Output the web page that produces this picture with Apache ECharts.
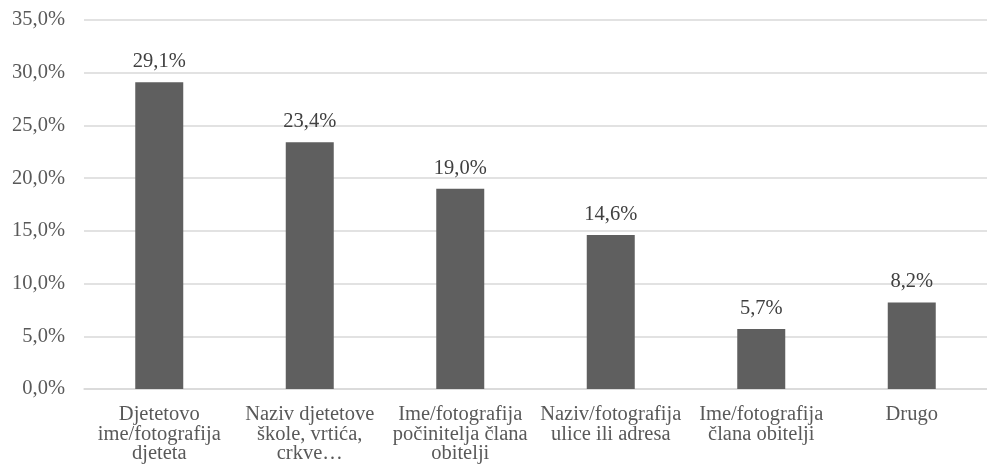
<!DOCTYPE html>
<html><head><meta charset="utf-8">
<script src="https://cdn.jsdelivr.net/npm/echarts@6/dist/echarts.min.js"></script>
<style>html,body{margin:0;padding:0;background:#fff}#c{width:987px;height:469px}</style>
</head><body><div id="c"></div>
<script>
const categories = [
  "Djetetovo\nime/fotografija\ndjeteta",
  "Naziv djetetove\nškole, vrtića,\ncrkve…",
  "Ime/fotografija\npočinitelja člana\nobitelji",
  "Naziv/fotografija\nulice ili adresa",
  "Ime/fotografija\nčlana obitelji",
  "Drugo"
];
const values = [29.1, 23.4, 19.0, 14.6, 5.7, 8.2];
const yTicks = { min: 0, max: 35, interval: 5 };

const fmt = v => v.toFixed(1).replace('.', ',') + '%';
const font = 'Liberation Serif';
const chart = echarts.init(document.getElementById('c'));
chart.setOption({
  animation: false,
  grid: { left: 84, right: -8, top: 20, bottom: 80 },
  xAxis: {
    type: 'category', data: categories,
    axisLine: { lineStyle: { color: '#d9d9d9', width: 1.5 } },
    axisTick: { show: false },
    axisLabel: { interval: 0, color: '#595959', fontFamily: font, fontSize: 20.5, lineHeight: 19.5, margin: 16 }
  },
  yAxis: {
    type: 'value', min: yTicks.min, max: yTicks.max, interval: yTicks.interval,
    axisLine: { show: false }, axisTick: { show: false },
    splitLine: { lineStyle: { color: '#d9d9d9', width: 1.5 } },
    axisLabel: { color: '#595959', fontFamily: font, fontSize: 20.5, margin: 19, formatter: v => fmt(v) }
  },
  series: [{
    type: 'bar', data: values, barWidth: 48,
    itemStyle: { color: '#5f5f5f' },
    label: { show: true, position: 'top', distance: 10, color: '#404040', fontFamily: font, fontSize: 20.5, formatter: p => fmt(p.value) }
  }]
});
</script></body></html>
